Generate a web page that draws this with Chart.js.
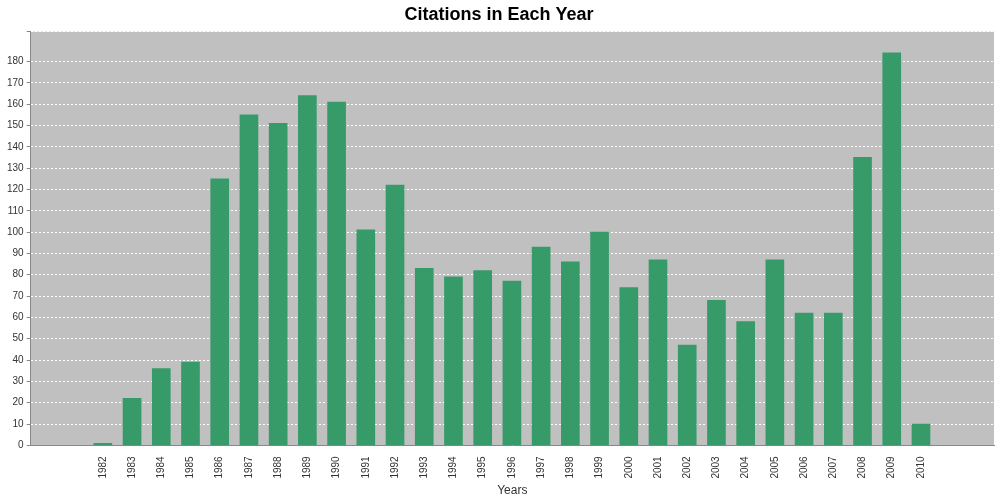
<!DOCTYPE html>
<html>
<head>
<meta charset="utf-8">
<script src="https://cdn.jsdelivr.net/npm/chart.js"></script>
<style>
  html, body { margin: 0; padding: 0; background: #fff; }
  #wrap { width: 1000px; height: 500px; }
</style>
</head>
<body>
<div id="wrap"><canvas id="chart"></canvas></div>
<script>
const years = [1982, 1983, 1984, 1985, 1986, 1987, 1988, 1989, 1990, 1991, 1992, 1993, 1994, 1995,
  1996, 1997, 1998, 1999, 2000, 2001, 2002, 2003, 2004, 2005, 2006, 2007, 2008, 2009, 2010];
const citations = [1, 22, 36, 39, 125, 155, 151, 164, 161, 101, 122, 83, 79, 82,
  77, 93, 86, 100, 74, 87, 47, 68, 58, 87, 62, 62, 135, 184, 10];

// grey plot area background
const plotBg = {
  id: 'plotBg',
  beforeDraw(chart) {
    const a = chart.chartArea, ctx = chart.ctx;
    ctx.save();
    ctx.fillStyle = '#c0c0c0';
    ctx.fillRect(a.left, a.top, a.right - a.left, a.bottom - a.top);
    ctx.restore();
  }
};

new Chart(document.getElementById('chart'), {
  type: 'bar',
  data: {
    datasets: [{
      data: years.map((y, i) => ({ x: y, y: citations[i] })),
      backgroundColor: '#379b69',
      barThickness: 18
    }]
  },
  options: {
    responsive: true,
    maintainAspectRatio: false,
    animation: false,
    layout: { padding: { left: 4, right: 6, top: 0, bottom: 0 } },
    plugins: {
      legend: { display: false },
      tooltip: { enabled: false },
      title: {
        display: true, text: 'Citations in Each Year', color: '#000',
        font: { family: 'Liberation Sans', size: 18, weight: 'bold' },
        padding: { top: 4, bottom: 6 }
      }
    },
    scales: {
      x: {
        type: 'linear', min: 1980.03, max: 2012,
        grid: { display: false },
        border: { color: '#888' },
        ticks: {
          stepSize: 1, autoSkip: false, maxRotation: 90, minRotation: 90,
          color: '#333', font: { family: 'Liberation Sans', size: 10 },
          callback: v => (v >= 1982 && v <= 2010 && Number.isInteger(v)) ? String(v) : ''
        },
        title: { display: true, text: 'Years', color: '#333', font: { family: 'Liberation Sans', size: 12 }, padding: { top: 2, bottom: 2 } }
      },
      y: {
        min: 0, max: 194,
        grid: { color: '#ffffff', tickLength: 4, tickColor: '#888' },
        border: { color: '#888', dash: [2, 2] },
        ticks: {
          stepSize: 10, color: '#333', font: { family: 'Liberation Sans', size: 10 },
          callback: v => v % 10 === 0 ? v : ''
        }
      }
    }
  },
  plugins: [plotBg]
});
</script>
</body>
</html>
